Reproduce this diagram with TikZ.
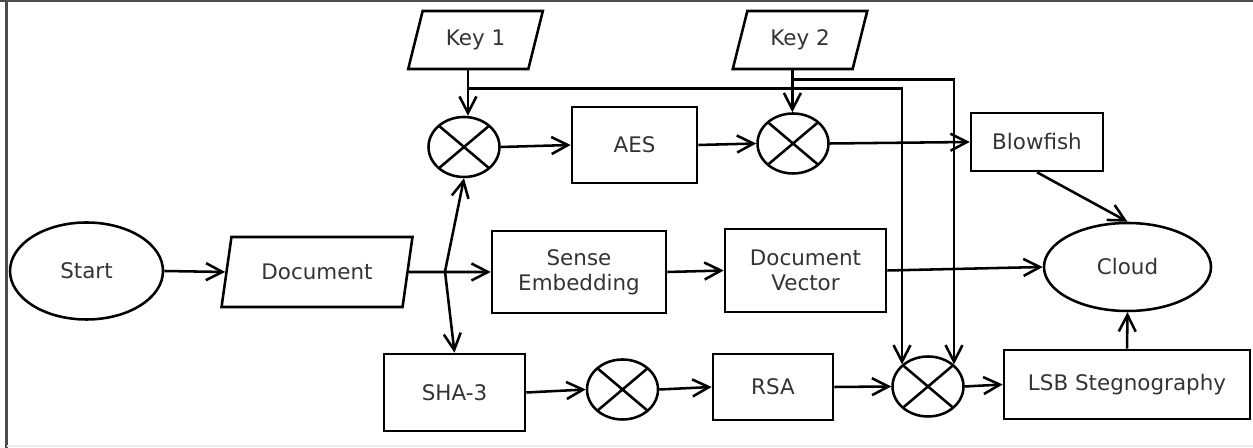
\documentclass[tikz,border=0pt]{standalone}
\usepackage{fontspec}
\setmainfont{DejaVu Sans}
\usetikzlibrary{arrows.meta,shapes.geometric}

\tikzset{
  procbox/.style={draw, rectangle, inner sep=2pt, align=center},
  terminal/.style={draw, ellipse, inner sep=0pt},
  datain/.style={draw, trapezium, trapezium left angle=68, trapezium right angle=112,
                 trapezium stretches=true, inner sep=0pt},
  mixer/.style={draw, ellipse, minimum width=1.42cm, minimum height=1.2cm, inner sep=0pt,
    path picture={\draw (path picture bounding box.north west) -- (path picture bounding box.south east)
                        (path picture bounding box.north east) -- (path picture bounding box.south west);}},
  flow/.style={-{Straight Barb[length=3.3mm,width=3.4mm]}}
}

\begin{document}
\begin{tikzpicture}[line width=1.45pt, font=\fontsize{12.2}{14.2}\selectfont, text=black!80]
\useasboundingbox (0,0) rectangle (25.06,8.96);
% ---- frame edges ---------------------------------------------------------
\draw[black!70, line width=1.2pt] (0,8.94) -- (25.06,8.94);
\draw[black!70, line width=1.2pt] (0.13,0) -- (0.13,8.96);
\draw[black!8, line width=0.8pt] (0.13,0.04) -- (25.06,0.04);

% ---- inputs --------------------------------------------------------------
\node[terminal, minimum width=3.06cm, minimum height=1.94cm] (start) at (1.73,3.54) {Start};
\node[datain, minimum width=3.84cm, minimum height=1.4cm] (doc) at (6.34,3.52) {Document};
\node[datain, minimum width=2.7cm, minimum height=1.16cm] (key1) at (9.51,8.16) {Key 1};
\node[datain, minimum width=2.7cm, minimum height=1.16cm] (key2) at (16.0,8.16) {Key 2};

% ---- encryption row ------------------------------------------------------
\node[mixer] (mix1) at (9.28,6.02) {};
\node[procbox, minimum width=2.5cm, minimum height=1.52cm] (aes) at (12.69,6.06) {AES};
\node[mixer] (mix2) at (15.86,6.09) {};
\node[procbox, minimum width=2.64cm, minimum height=1.16cm] (blow) at (20.74,6.12) {Blowfish};

% ---- embedding row -------------------------------------------------------
\node[procbox, minimum width=3.48cm, minimum height=1.64cm] (sense) at (11.58,3.52) {Sense\\Embedding};
\node[procbox, minimum width=3.22cm, minimum height=1.66cm] (dvec) at (16.11,3.55) {Document\\Vector};
\node[terminal, minimum width=3.34cm, minimum height=1.76cm] (cloud) at (22.55,3.62) {Cloud};

% ---- hashing row ---------------------------------------------------------
\node[procbox, minimum width=2.82cm, minimum height=1.54cm] (sha) at (9.09,1.11) {SHA-3};
\node[mixer] (mix3) at (12.45,1.17) {};
\node[procbox, minimum width=2.4cm, minimum height=1.32cm] (rsa) at (15.46,1.22) {RSA};
\node[mixer] (mix4) at (18.56,1.23) {};
\node[procbox, minimum width=4.92cm, minimum height=1.38cm] (lsb) at (22.54,1.27) {LSB Stegnography};

% ---- connectors ----------------------------------------------------------
\coordinate (split) at (8.9,3.53);
\coordinate (k1tap) at ([yshift=-0.36cm]key1.bottom side);
\coordinate (k2tap) at ([yshift=-0.18cm]key2.bottom side);

\draw[flow] (start.east) -- (doc.west);
\draw[flow] (doc.east) -- (sense.west);
\draw[flow] (split) -- (mix1.south);
\draw[flow] (split) -- (sha.north);
\draw[flow] (key1.bottom side) -- (key1.bottom side |- mix1.north);
\draw[flow] (key2.bottom side) -- (key2.bottom side |- mix2.north);
\draw[flow] (k1tap) -| (mix4.north west);
\draw[flow] (k2tap) -| (mix4.north east);
\foreach \a/\b in {mix1/aes, aes/mix2, mix2/blow, sense/dvec, dvec/cloud,
                   sha/mix3, mix3/rsa, rsa/mix4, mix4/lsb}
  \draw[flow] (\a.east) -- (\b.west);
\draw[flow] (blow.south) -- (cloud.north);
\draw[flow] (lsb.north) -- (cloud.south);
\end{tikzpicture}
\end{document}
